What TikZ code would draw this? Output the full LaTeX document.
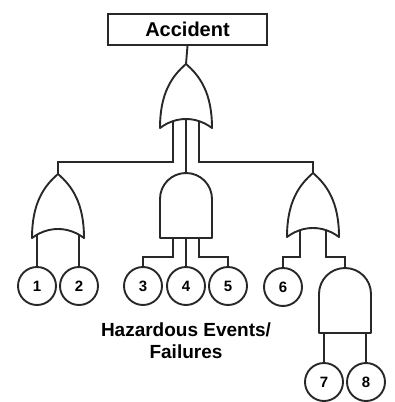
\documentclass[tikz,border=0pt]{standalone}
\usepackage{fontspec}
\setmainfont{Liberation Sans}
\usetikzlibrary{backgrounds}
\definecolor{FTLineColor}{RGB}{40,40,40}

\tikzset{
  gate/.style={draw=FTLineColor,fill=white,line width=1.9pt,line join=round},
  wire/.style={draw=FTLineColor,line width=1.9pt},
  evt/.style={circle,draw=FTLineColor,line width=1.9pt,minimum size=38pt,inner sep=0pt,font=\fontsize{15}{15}\selectfont\bfseries},
  orgate/.pic={
    \draw[gate] (-26,0) .. controls (-26,-35) and (-14,-52) .. (0,-64)
       .. controls (14,-52) and (26,-35) .. (26,0)
       .. controls (10,-12) and (-10,-12) .. cycle;
    \coordinate (-out) at (0,-64);
    \foreach \p/\x in {ll/-21,l/-13,m/0,r/13,rr/21} {\coordinate (-\p) at (\x,-12);}
  },
  andgate/.pic={
    \draw[gate] (-26,0) -- (-26,-39) .. controls (-26,-53.4) and (-14.4,-65) .. (0,-65)
       .. controls (14.4,-65) and (26,-53.4) .. (26,-39) -- (26,0) -- cycle;
    \coordinate (-out) at (0,-65);
    \foreach \p/\x in {ll/-21,l/-13,m/0,r/13,rr/21} {\coordinate (-\p) at (\x,-12);}
  }
}

\begin{document}
\begin{tikzpicture}[x=1pt,y=-1pt]
\useasboundingbox (0,0) rectangle (394,402);
\node[draw=FTLineColor,line width=1.6pt,minimum width=159pt,minimum height=31pt,inner sep=0pt,font=\fontsize{20}{20}\selectfont\bfseries] (acc) at (187.5,29.5) {Accident};
% gates
\pic (gT) at (186,128) {orgate};
\pic (gL) at (58,238) {orgate};
\pic (gM) at (186,238) {andgate};
\pic (gR) at (313,237) {orgate};
\pic (gA) at (345,333) {andgate};
% basic events
\foreach \n/\x/\y in {1/37/286,2/79/286,3/143/286,4/186/286,5/228/286,6/283/287,7/324/382,8/366/382} {
   \node[evt] (e\n) at (\x,\y) {\n};
}
\coordinate (busT) at (0,162);
\coordinate (busB) at (0,257);
\begin{scope}[on background layer]
\draw[wire] (acc.south) -- (gT-out);
\draw[wire] (gT-l) -- (gT-l |- busT) -| (gL-out);
\draw[wire] (gT-m) -- (gM-out);
\draw[wire] (gT-r) -- (gT-r |- busT) -| (gR-out);
\draw[wire] (gL-ll) -- (e1.north);
\draw[wire] (gL-rr) -- (e2.north);
\draw[wire] (gM-l) -- (gM-l |- busB) -| (e3.north);
\draw[wire] (gM-m) -- (e4.north);
\draw[wire] (gM-r) -- (gM-r |- busB) -| (e5.north);
\draw[wire] (gR-l) -- (gR-l |- busB) -| (e6.north);
\draw[wire] (gR-r) -- (gR-r |- busB) -| (gA-out);
\draw[wire] (gA-ll) -- (e7.north);
\draw[wire] (gA-rr) -- (e8.north);
\end{scope}
\node[font=\fontsize{19}{22}\selectfont\bfseries,align=center] (lbl) at (186,341) {Hazardous Events/\\Failures};
\end{tikzpicture}
\end{document}
